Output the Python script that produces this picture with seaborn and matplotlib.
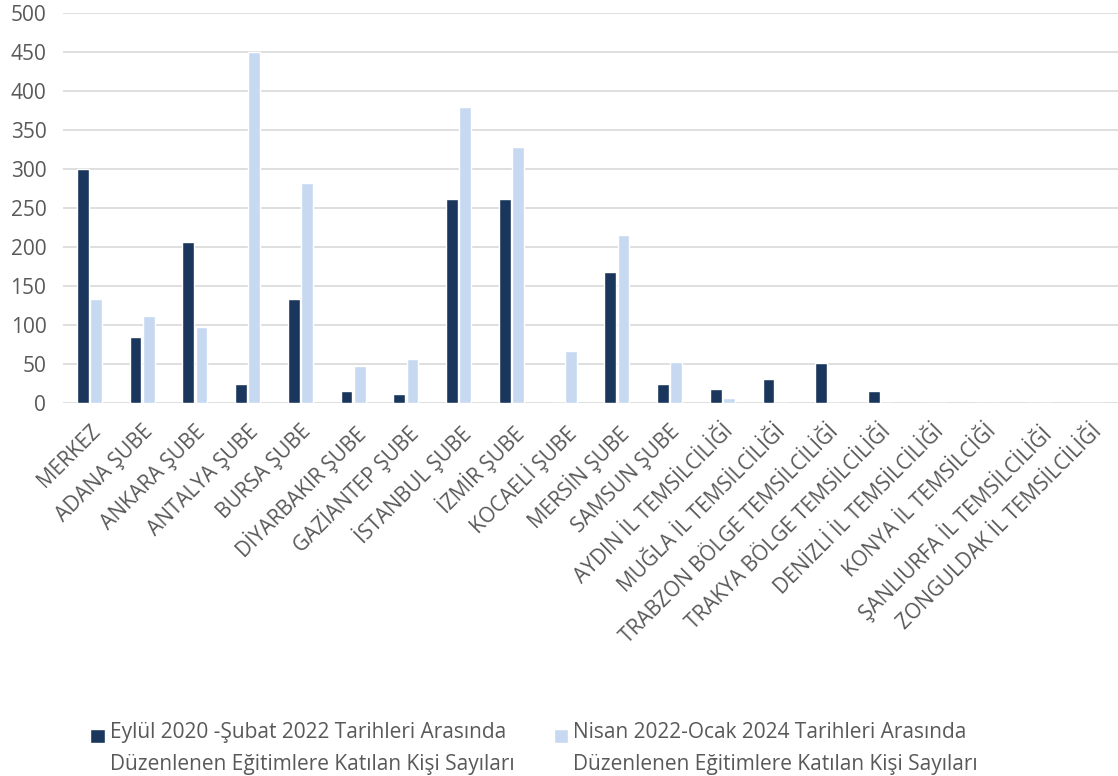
import pandas as pd
import matplotlib.pyplot as plt
import seaborn as sns
from matplotlib.patches import Rectangle
from matplotlib.legend_handler import HandlerPatch

# Veriler
kategoriler = [
    "MERKEZ", "ADANA ŞUBE", "ANKARA ŞUBE", "ANTALYA ŞUBE", "BURSA ŞUBE",
    "DİYARBAKIR ŞUBE", "GAZİANTEP ŞUBE", "İSTANBUL ŞUBE", "İZMİR ŞUBE",
    "KOCAELİ ŞUBE", "MERSİN ŞUBE", "SAMSUN ŞUBE", "AYDIN İL TEMSİLCİLİĞİ",
    "MUĞLA İL TEMSİLCİLİĞİ", "TRABZON BÖLGE TEMSİLCİLİĞİ",
    "TRAKYA BÖLGE TEMSİLCİLİĞİ", "DENİZLİ İL TEMSİLCİLİĞİ",
    "KONYA İL TEMSİLCİĞİ", "ŞANLIURFA İL TEMSİLCİLİĞİ",
    "ZONGULDAK İL TEMSİLCİLİĞİ",
]
donem1 = [300, 85, 207, 25, 133, 16, 12, 261, 261, 0, 168, 25, 18, 31, 51, 16, 0, 0, 0, 0]
donem2 = [133, 112, 98, 450, 282, 48, 56, 380, 328, 67, 216, 53, 6, 0, 0, 0, 0, 0, 0, 0]
seri_adlari = [
    "Eylül 2020 -Şubat 2022 Tarihleri Arasında\nDüzenlenen Eğitimlere Katılan Kişi Sayıları",
    "Nisan 2022-Ocak 2024 Tarihleri Arasında\nDüzenlenen Eğitimlere Katılan Kişi Sayıları",
]
y_ticks = list(range(0, 501, 50))

renkler = ["#1b365d", "#c6d9f0"]
gri = "#595959"
fs = 15

df = pd.DataFrame({
    "Birim": kategoriler * 2,
    "Seri": [seri_adlari[0]] * len(kategoriler) + [seri_adlari[1]] * len(kategoriler),
    "Kisi": donem1 + donem2,
})

sns.set_theme(style="white")
plt.rcParams["font.family"] = ["Open Sans", "DejaVu Sans"]

fig = plt.figure(figsize=(11.18, 7.76), dpi=100)
ax = fig.add_axes([63 / 1118, 1 - 403 / 776, 1 - 63 / 1118, (403 - 13) / 776])

sns.barplot(
    data=df, x="Birim", y="Kisi", hue="Seri", palette=renkler,
    width=0.5, gap=0.12, ax=ax, legend=False, saturation=1,
)

ax.set_ylim(0, 500)
ax.set_xlim(-0.5, len(kategoriler) - 0.5)
ax.set_yticks(y_ticks)
ax.yaxis.grid(True, color="#d9d9d9", linewidth=1.2)
ax.set_axisbelow(True)
for s in ax.spines.values():
    s.set_visible(False)
ax.set_xlabel("")
ax.set_ylabel("")
ax.tick_params(axis="y", length=0, pad=12, labelsize=fs, labelcolor=gri)
ax.tick_params(axis="x", length=0, pad=13, labelsize=fs, labelcolor=gri)
ax.set_xticks(range(len(kategoriler)))
ax.set_xticklabels(kategoriler, rotation=45, ha="right", rotation_mode="anchor")


# legend: kare işaret ilk satır hizasında
def kare(legend, orig_handle, xdescent, ydescent, width, height, fontsize):
    s = 0.68 * fontsize
    return Rectangle((-xdescent, -ydescent + height - s - 0.05 * fontsize), s, s)


handles = [Rectangle((0, 0), 1, 1, facecolor=c) for c in renkler]
leg = fig.legend(
    handles, seri_adlari, loc="lower left", bbox_to_anchor=(80 / 1118, -0.012),
    ncol=2, frameon=False, fontsize=fs, handlelength=0.68, handleheight=3.0,
    handletextpad=0.25, columnspacing=1.9, labelcolor=gri, borderpad=0,
    handler_map={Rectangle: HandlerPatch(patch_func=kare)},
)
for t in leg.get_texts():
    t.set_linespacing(1.65)

fig.savefig("out.png", dpi=100)
